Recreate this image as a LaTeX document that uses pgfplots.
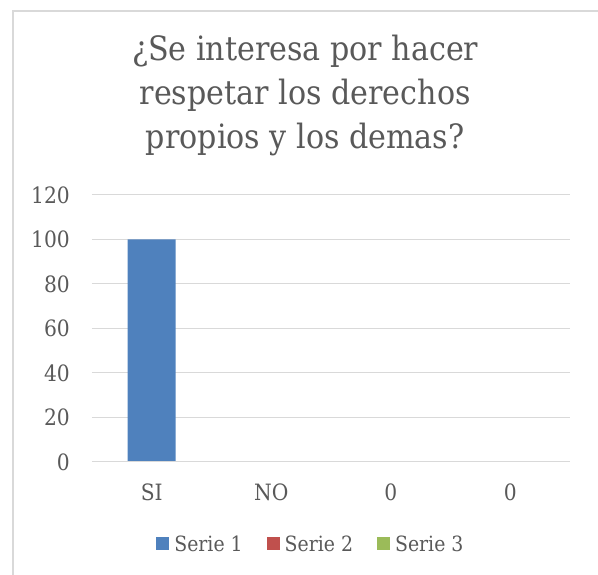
\documentclass[border=0pt]{standalone}
\usepackage{fontspec}
\setmainfont{DejaVu Serif Condensed}
\usepackage{pgfplots}
\pgfplotsset{compat=1.18}
\definecolor{sA}{HTML}{4F81BD}
\definecolor{sB}{HTML}{C0504D}
\definecolor{sC}{HTML}{9BBB59}
\definecolor{txt}{HTML}{595959}
\definecolor{gridc}{HTML}{D9D9D9}
\begin{document}
\begin{tikzpicture}
\begin{axis}[
  at={(0pt,0pt)}, anchor=south west,
  scale only axis, width=478pt, height=267pt,
  ymin=0, ymax=120, ytick={0,20,...,120},
  xmin=-0.5, xmax=3.5,
  xtick={0,1,2,3}, xticklabels={SI,NO,0,0},
  axis line style={draw=none},
  ymajorgrids, grid style={gridc, line width=1pt},
  major tick length=0pt,
  tick label style={font=\fontsize{22.5}{24}\selectfont, text=txt},
  /pgf/number format/assume math mode=true,
  yticklabel style={anchor=east, inner sep=0pt, xshift=-22pt},
  xticklabel style={anchor=base, inner sep=0pt, yshift=-39pt},
  ybar, bar width=48pt,
  title={¿Se interesa por hacer\\respetar los derechos\\propios y los demas?},
  title style={font=\fontsize{33.5}{44}\selectfont, text=txt, align=center, at={(0.446,1)}, anchor=base, inner sep=0pt, yshift=40pt},
  legend style={at={(0.458,-0.307)}, anchor=center, draw=none, fill=none, font=\fontsize{21}{24}\selectfont, text=txt, legend columns=3,
    /tikz/every odd column/.append style={column sep=3pt},
    /tikz/every even column/.append style={column sep=22pt}},
  legend image code/.code={\fill[#1] (0pt,-6pt) rectangle (13pt,7pt);},
]
\addplot[fill=sA, draw=none] coordinates {(0,100) (1,0) (2,0) (3,0)};
\addlegendentry{Serie 1}
\addlegendimage{fill=sB, draw=none}
\addlegendentry{Serie 2}
\addlegendimage{fill=sC, draw=none}
\addlegendentry{Serie 3}
\draw[gridc, line width=1pt] (rel axis cs:0,0) -- (rel axis cs:1,0);
\end{axis}
\pgfresetboundingbox
\useasboundingbox (-92pt,-113pt) rectangle (506pt,462pt);
\draw[gridc, line width=1.5pt] (-79pt,-113pt) -- (-79pt,451pt) -- (506pt,451pt);
\end{tikzpicture}
\end{document}
